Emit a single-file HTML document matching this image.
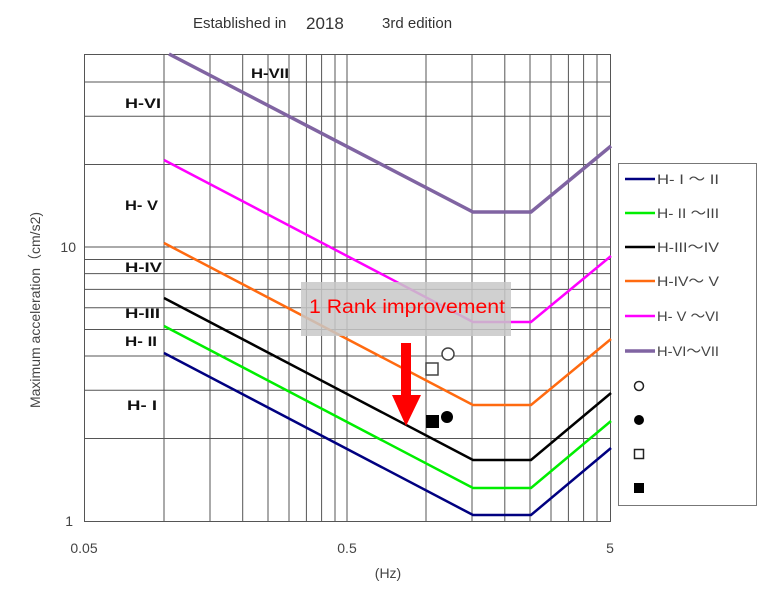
<!DOCTYPE html>
<html><head><meta charset="utf-8"><style>
body{margin:0;background:#fff;width:768px;height:594px;overflow:hidden}
svg{display:block}
text{font-family:"Liberation Sans",sans-serif}
</style></head><body>
<svg width="768" height="594" viewBox="0 0 768 594">
<text x="193" y="28" font-size="15" fill="#333">Established in</text>
<text x="306" y="29" font-size="17" fill="#333">2018</text>
<text x="382" y="28" font-size="15" fill="#333">3rd edition</text>
<g stroke="#555" stroke-width="1" fill="none">
<rect x="84.5" y="54.5" width="526" height="467"/>
<path d="M164 54V521M210 54V521M242.7 54V521M268 54V521M289 54V521M306.4 54V521M321.6 54V521M335 54V521M347 54V521M426 54V521M472 54V521M504.8 54V521M530 54V521M551 54V521M568.4 54V521M583.6 54V521M597 54V521"/>
<path d="M84 438.5H610M84 390.3H610M84 356H610M84 329.5H610M84 307.8H610M84 289.4H610M84 273.6H610M84 259.5H610M84 247H610M84 164.5H610M84 116.3H610M84 82H610"/>
</g>
<g fill="none" stroke-width="2.5">
<polyline stroke="#000080" points="164,353 473,515 531,515 611,448"/>
<polyline stroke="#00ee00" points="164,326 473,488 531,488 611,421"/>
<polyline stroke="#000" points="164,298 473,460 531,460 611,393"/>
<polyline stroke="#ff6a10" points="164,243 473,405 531,405 611,339"/>
<polyline stroke="#ff00ff" points="164,160 473,322 531,322 611,256"/>
<polyline stroke="#8064a2" stroke-width="3.5" points="169,54 473,212 531,212 611,146"/>
</g>
<g font-size="14" font-weight="bold" fill="#111">
<text x="251" y="78" textLength="38" lengthAdjust="spacingAndGlyphs">H-VII</text>
<text x="125" y="108" textLength="36" lengthAdjust="spacingAndGlyphs">H-VI</text>
<text x="125" y="210" textLength="33" lengthAdjust="spacingAndGlyphs">H- V</text>
<text x="125" y="272" textLength="37" lengthAdjust="spacingAndGlyphs">H-IV</text>
<text x="125" y="318" textLength="35" lengthAdjust="spacingAndGlyphs">H-III</text>
<text x="125" y="346" textLength="32" lengthAdjust="spacingAndGlyphs">H- II</text>
<text x="127" y="410" textLength="30" lengthAdjust="spacingAndGlyphs">H-  I</text>
</g>
<rect x="301" y="282" width="210" height="54" fill="#c8c8c8" opacity="0.85"/>
<text x="407" y="313" font-size="19" fill="#ff0000" text-anchor="middle" textLength="196" lengthAdjust="spacingAndGlyphs">1 Rank improvement</text>
<rect x="401" y="343" width="10" height="53" fill="#ff0000"/>
<polygon points="392,395 421,395 406,426" fill="#ff0000"/>
<circle cx="448" cy="354" r="6" fill="#fff" stroke="#444" stroke-width="1.5"/>
<rect x="426" y="363" width="12" height="12" fill="#fff" stroke="#444" stroke-width="1.5"/>
<rect x="426" y="415" width="13" height="13" fill="#000"/>
<circle cx="447" cy="417" r="6" fill="#000"/>
<text x="76" y="252" font-size="14" fill="#444" text-anchor="end">10</text>
<text x="73" y="526" font-size="14" fill="#444" text-anchor="end">1</text>
<text x="84" y="553" font-size="14" fill="#444" text-anchor="middle">0.05</text>
<text x="347" y="553" font-size="14" fill="#444" text-anchor="middle">0.5</text>
<text x="610" y="553" font-size="14" fill="#444" text-anchor="middle">5</text>
<text x="388" y="578" font-size="14" fill="#444" text-anchor="middle">(Hz)</text>
<text transform="translate(40,310) rotate(-90)" font-size="14" fill="#444" text-anchor="middle">Maximum acceleration（cm/s2)</text>
<rect x="618.5" y="163.5" width="138" height="342" fill="#fff" stroke="#777"/>
<g stroke-width="2.5">
<line x1="625" y1="179" x2="655" y2="179" stroke="#000080"/>
<line x1="625" y1="213" x2="655" y2="213" stroke="#00ee00"/>
<line x1="625" y1="247" x2="655" y2="247" stroke="#000"/>
<line x1="625" y1="281" x2="655" y2="281" stroke="#ff6a10"/>
<line x1="625" y1="316" x2="655" y2="316" stroke="#ff00ff"/>
<line x1="625" y1="351" x2="655" y2="351" stroke="#8064a2" stroke-width="3.5"/>
</g>
<g font-size="14" fill="#444">
<text x="657" y="184" textLength="62" lengthAdjust="spacingAndGlyphs">H-  I ～ II</text>
<text x="657" y="218" textLength="62" lengthAdjust="spacingAndGlyphs">H- II ～III</text>
<text x="657" y="252" textLength="62" lengthAdjust="spacingAndGlyphs">H-III～IV</text>
<text x="657" y="286" textLength="62" lengthAdjust="spacingAndGlyphs">H-IV～ V</text>
<text x="657" y="321" textLength="62" lengthAdjust="spacingAndGlyphs">H- V ～VI</text>
<text x="657" y="356" textLength="62" lengthAdjust="spacingAndGlyphs">H-VI～VII</text>
</g>
<circle cx="639" cy="386" r="4.5" fill="#fff" stroke="#222" stroke-width="1.5"/>
<circle cx="639" cy="420" r="5" fill="#000"/>
<rect x="634.5" y="449.5" width="9" height="9" fill="#fff" stroke="#222" stroke-width="1.5"/>
<rect x="634" y="483" width="10" height="10" fill="#000"/>
</svg>
</body></html>
